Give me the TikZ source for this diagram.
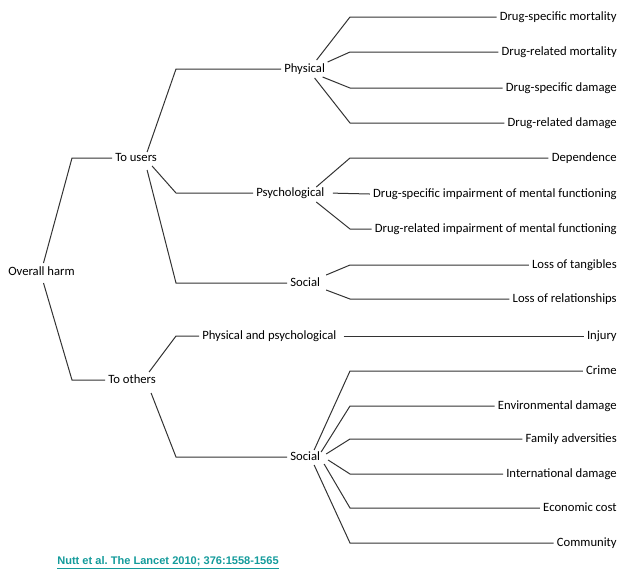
\documentclass[tikz,border=0pt]{standalone}
\usepackage{fontspec}
\setmainfont{Carlito}
\newfontfamily\citefont{Liberation Sans}
\definecolor{lancet}{RGB}{20,155,155}

\begin{document}
\begin{tikzpicture}[x=0.75pt, y=-0.75pt]
  \tikzstyle{item}=[anchor = west, inner sep = 2.25pt, text height = 6.5pt, text depth = 2pt, font = \fontsize{9.5pt}{11pt}\selectfont]
  \tikzstyle{leaf}=[item, anchor = east]
  \tikzstyle{link}=[black!80, line width = 0.75pt]

  \useasboundingbox (0,0) rectangle (624,576);

  \coordinate (c1) at (72,0);
  \coordinate (c2) at (176,0);
  \coordinate (c3) at (350,0);

  \node[item] (oh) at (5,272) {Overall harm};
  \node[item] (tu) at (112,158) {To users};
  \node[item] (to) at (105,380) {To others};

  \node[item] (ph) at (281,69) {Physical};
  \node[item] (ps) at (253,193) {Psychological};
  \node[item] (su) at (287,283) {Social};
  \node[item] (pp) at (199,336) {Physical and psychological};
  \node[item] (so) at (287,457) {Social};

  \node[leaf] (dsm) at (620,17) {Drug-specific mortality};
  \node[leaf] (drm) at (620,52) {Drug-related mortality};
  \node[leaf] (dsd) at (620,88) {Drug-specific damage};
  \node[leaf] (drd) at (620,123) {Drug-related damage};
  \node[leaf] (dep) at (620,158) {Dependence};
  \node[leaf] (dsi) at (620,194) {Drug-specific impairment of mental functioning};
  \node[leaf] (dri) at (620,229) {Drug-related impairment of mental functioning};
  \node[leaf] (lot) at (620,265) {Loss of tangibles};
  \node[leaf] (lor) at (620,299) {Loss of relationships};
  \node[leaf] (inj) at (620,336) {Injury};
  \node[leaf] (cri) at (620,371) {Crime};
  \node[leaf] (env) at (620,406) {Environmental damage};
  \node[leaf] (fam) at (620,439) {Family adversities};
  \node[leaf] (int) at (620,474) {International damage};
  \node[leaf] (eco) at (620,508) {Economic cost};
  \node[leaf] (com) at (620,543) {Community};

  \draw[link] ([shift={(2,-9)}]oh.center) -- (tu -| c1) -- (tu.west);
  \draw[link] ([shift={(2,11)}]oh.center) -- (to -| c1) -- (to.west);

  \draw[link] ([shift={(11,-6)}]tu.center) -- (ph -| c2) -- (ph.west);
  \draw[link] ([shift={(16,8)}]tu.center) -- (ps -| c2) -- (ps.west);
  \draw[link] ([shift={(11,12)}]tu.center) -- (su -| c2) -- (su.west);
  \draw[link] ([shift={(17,-8)}]to.center) -- (pp -| c2) -- (pp.west);
  \draw[link] ([shift={(19,13)}]to.center) -- (so -| c2) -- (so.west);

  \draw[link] ([shift={(12,-9)}]ph.center) -- (dsm -| c3) -- (dsm.west);
  \draw[link] ([shift={(23,-7)}]ph.center) -- (drm -| c3) -- (drm.west);
  \draw[link] ([shift={(18,8)}]ph.center) -- (dsd -| c3) -- (dsd.west);
  \draw[link] ([shift={(10,9)}]ph.center) -- (drd -| c3) -- (drd.west);

  \draw[link] ([shift={(26,-6)}]ps.center) -- (dep -| c3) -- (dep.west);
  \draw[link, shorten <= 4pt] (ps.east) -- (dsi.west);
  \draw[link] ([shift={(26,9)}]ps.center) -- (dri -| c3) -- (dri.west);

  \draw[link] ([shift={(21,-8)}]su.center) -- (lot -| c3) -- (lot.west);
  \draw[link] ([shift={(21,7)}]su.center) -- (lor -| c3) -- (lor.west);

  \draw[link, shorten <= 3pt] (pp.east) -- (inj.west);

  \draw[link] ([shift={(9,-7)}]so.center) -- (cri -| c3) -- (cri.west);
  \draw[link] ([shift={(16,-5)}]so.center) -- (env -| c3) -- (env.west);
  \draw[link] ([shift={(21,-3)}]so.center) -- (fam -| c3) -- (fam.west);
  \draw[link] ([shift={(23,3)}]so.center) -- (int -| c3) -- (int.west);
  \draw[link] ([shift={(19,7)}]so.center) -- (eco -| c3) -- (eco.west);
  \draw[link] ([shift={(9,8)}]so.center) -- (com -| c3) -- (com.west);

  \node[anchor = west, inner sep = 0pt, text = lancet, font = \citefont\bfseries\fontsize{8.3pt}{10pt}\selectfont] (ref) at (57,563) {\underline{Nutt et al.\ The Lancet 2010; 376:1558-1565}};

\end{tikzpicture}
\end{document}
